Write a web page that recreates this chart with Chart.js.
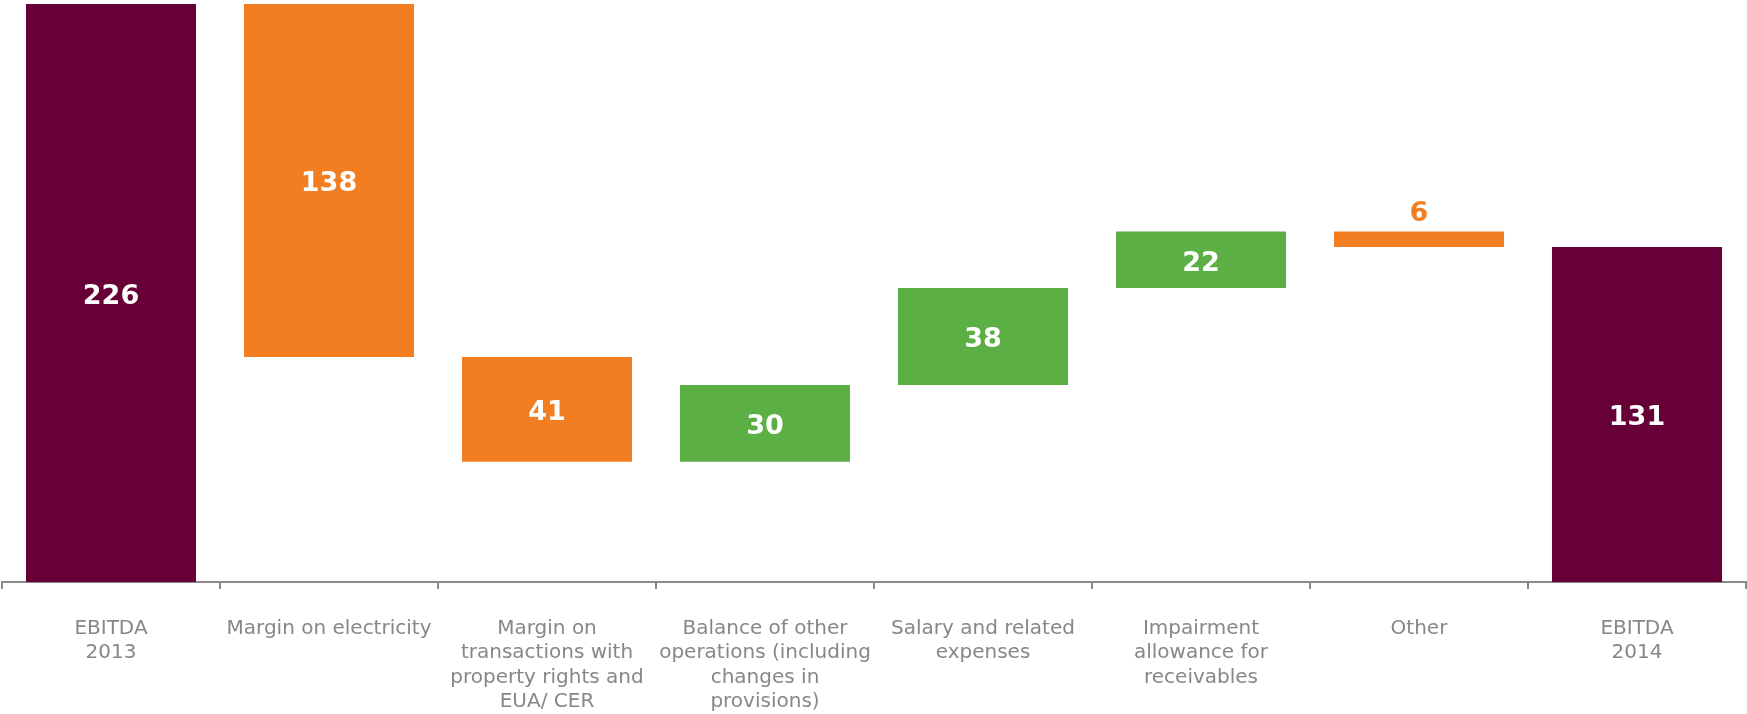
<!DOCTYPE html>
<html>
<head>
<meta charset="utf-8">
<script src="https://cdn.jsdelivr.net/npm/chart.js@4.4.1/dist/chart.umd.min.js"></script>
<style>
  html, body { margin: 0; padding: 0; background: #fff; }
  #wrap { width: 1747px; height: 714px; }
</style>
</head>
<body>
<div id="wrap"><canvas id="ebitdaChart" width="1747" height="714"></canvas></div>
<script>
// bridge categories, each label split into its wrapped lines
const categories = [
  ["EBITDA", "2013"],
  ["Margin on electricity"],
  ["Margin on", "transactions with", "property rights and", "EUA/ CER"],
  ["Balance of other", "operations (including", "changes in", "provisions)"],
  ["Salary and related", "expenses"],
  ["Impairment", "allowance for", "receivables"],
  ["Other"],
  ["EBITDA", "2014"],
];
// start/end totals and the changes in between
const changes = [226, -138, -41, 30, 38, 22, -6, 131];
const isTotal = [true, false, false, false, false, false, false, true];

const PURPLE = "rgb(102, 0, 54)";
const ORANGE = "rgb(243, 126, 33)";
const GREEN = "rgb(92, 175, 68)";
const AXIS_GREY = "#8a8a8a";
const FONT = "'DejaVu Sans', Verdana, sans-serif";

// turn the changes into floating [from, to] ranges
const ranges = [];
let running = 0;
changes.forEach((v, i) => {
  if (isTotal[i]) {
    ranges.push([0, v]);
    running = v;
  } else {
    ranges.push([running, running + v]);
    running += v;
  }
});

const barColors = changes.map((v, i) =>
  isTotal[i] ? PURPLE : v < 0 ? ORANGE : GREEN
);

// value labels: white inside tall bars, bar-coloured above thin ones
const valueLabels = {
  id: "valueLabels",
  afterDatasetsDraw(chart) {
    const ctx = chart.ctx;
    const meta = chart.getDatasetMeta(0);
    ctx.save();
    ctx.font = "bold 27px " + FONT;
    ctx.textAlign = "center";
    meta.data.forEach((bar, i) => {
      const { x, y, base } = bar.getProps(["x", "y", "base"], true);
      const top = Math.min(y, base);
      const bottom = Math.max(y, base);
      const text = String(Math.abs(changes[i]));
      if (bottom - top >= 40) {
        ctx.fillStyle = "#fff";
        ctx.textBaseline = "middle";
        ctx.fillText(text, x, (top + bottom) / 2 + 4);
      } else {
        ctx.fillStyle = barColors[i];
        ctx.textBaseline = "alphabetic";
        ctx.fillText(text, x, top - 11);
      }
    });
    ctx.restore();
  },
};

new Chart(document.getElementById("ebitdaChart"), {
  type: "bar",
  data: {
    labels: categories,
    datasets: [
      {
        data: ranges,
        backgroundColor: barColors,
        borderWidth: 0,
        barPercentage: 1,
        categoryPercentage: 0.78,
      },
    ],
  },
  options: {
    responsive: false,
    animation: false,
    layout: { padding: { top: 4, left: 2, right: 1, bottom: 0 } },
    plugins: {
      legend: { display: false },
      tooltip: { enabled: false },
    },
    scales: {
      x: {
        afterFit: (scale) => {
          scale.height = 132;
        },
        border: { display: true, color: AXIS_GREY, width: 2 },
        grid: {
          offset: true,
          drawOnChartArea: false,
          drawTicks: true,
          tickLength: 7,
          color: AXIS_GREY,
          lineWidth: 2,
        },
        ticks: {
          color: "#878787",
          padding: 27,
          maxRotation: 0,
          autoSkip: false,
          font: { family: FONT, size: 20, lineHeight: 1.23 },
        },
      },
      y: {
        display: false,
        min: 0,
        max: 226,
      },
    },
  },
  plugins: [valueLabels],
});
</script>
</body>
</html>
